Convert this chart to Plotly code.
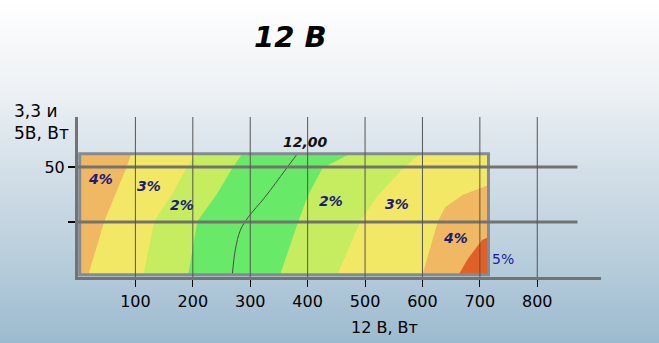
import base64
import plotly.graph_objects as go

# ---- data ----
title_text = "12 В"
x_title = "12 В, Вт"
y_title = "3,3 и<br>5В, Вт"
x_ticks = [100, 200, 300, 400, 500, 600, 700, 800]
y_ticks = [25, 50]
y_ticklabels = ["", "50"]

# map extent (12 V load, 3.3+5 V load)
map_w = [3, 715]
map_p = [1, 56]

# band boundaries: 12 V load (W) at each level of 3.3/5 V load
p_levels = [56, 49.5, 37.3, 25.5, 1]
b_4_3_left = [93, 84, 65, 46, 18]
b_3_2_left = [206, 189, 163, 133, 114]
b_2_1_left = [286, 269, 241, 208, 192]
b_1_2_right = [474, 426, 401, 384, 352]
b_2_3_right = [596, 567, 523, 492, 452]
b_3_4_right_w = [715, 670, 640, 627, 600]
b_3_4_right_p = [41.8, 37.3, 31.8, 25.5, 1]
b_4_5_right_w = [715, 704, 680, 663]
b_4_5_right_p = [18.2, 16.8, 8.6, 1]

# 12,00 V line
line12_w = [382, 361, 326, 297, 283, 274, 269]
line12_p = [56, 48.6, 36.4, 27.3, 21.4, 12.3, 1.5]

labels = [
    ("4%", 39, 44.5), ("3%", 123, 41.4), ("2%", 182, 32.7),
    ("2%", 440, 34.5), ("3%", 556, 33.2), ("4%", 657, 17.7),
]
label5 = ("5%", 741, 8.2)
label12 = ("12,00", 396, 61.4)

c_orange = "#F0B862"
c_yellow = "#F2E866"
c_lgreen = "#C6EC60"
c_green = "#68EA68"
c_red = "#E06028"

FONT = "DejaVu Sans"

fig = go.Figure()


def poly(xs, ys, color):
    fig.add_trace(go.Scatter(x=xs, y=ys, mode="lines", fill="toself",
                             fillcolor=color, line=dict(width=0, color=color),
                             hoverinfo="skip", showlegend=False))


# base yellow
poly([map_w[0], map_w[1], map_w[1], map_w[0]], [map_p[0], map_p[0], map_p[1], map_p[1]], c_yellow)
# light green band
poly(b_3_2_left + b_2_3_right[::-1], p_levels + p_levels[::-1], c_lgreen)
# green band
poly(b_2_1_left + b_1_2_right[::-1], p_levels + p_levels[::-1], c_green)
# left orange
poly([map_w[0]] + b_4_3_left + [map_w[0]], [map_p[1]] + p_levels + [map_p[0]], c_orange)
# right orange
poly(b_3_4_right_w + [map_w[1], map_w[1]], b_3_4_right_p + [map_p[0], b_3_4_right_p[0]], c_orange)
# red
poly(b_4_5_right_w + [map_w[1], map_w[1]], b_4_5_right_p + [map_p[0], b_4_5_right_p[0]], c_red)

# 12,00 line
fig.add_trace(go.Scatter(x=line12_w, y=line12_p, mode="lines",
                         line=dict(color="#4a4a4a", width=1, shape="spline"),
                         hoverinfo="skip", showlegend=False))

XMAX = 911
YMAX = 72.7

shapes = []
# map border
shapes.append(dict(type="rect", xref="x", yref="y", x0=map_w[0], x1=map_w[1], y0=map_p[0], y1=map_p[1],
                   line=dict(color="#848a92", width=3), layer="above"))
# horizontal grid lines
for yv in y_ticks:
    shapes.append(dict(type="line", xref="x", yref="y", x0=0, x1=870, y0=yv, y1=yv,
                       line=dict(color="#727272", width=3), layer="above"))
# vertical grid lines
for xv in x_ticks:
    shapes.append(dict(type="line", xref="x", yref="y", x0=xv, x1=xv, y0=0, y1=YMAX,
                       line=dict(color="#555555", width=1), layer="above"))

ann = []
for t, xw, yp in labels:
    ann.append(dict(x=xw, y=yp, xref="x", yref="y", text=f"<b><i>{t}</i></b>", showarrow=False,
                    font=dict(family=FONT, size=14, color="#1c1c78")))
ann.append(dict(x=label5[1], y=label5[2], xref="x", yref="y", text=label5[0], showarrow=False,
                font=dict(family=FONT, size=14, color="#1a1a9a")))
ann.append(dict(x=label12[1], y=label12[2], xref="x", yref="y", text=f"<b><i>{label12[0]}</i></b>",
                showarrow=False, font=dict(family=FONT, size=14, color="#111111")))

W, H = 659, 343
ML, MR, MT, MB = 78, 58, 117, 66
PW, PH = W - ML - MR, H - MT - MB


def px2paper(px, py):
    return (px - ML) / PW, 1 - (py - MT) / PH


tx, ty = px2paper(290, 37)
ann.append(dict(x=tx, y=ty, xref="paper", yref="paper", text=f"<b><i>{title_text}</i></b>",
                showarrow=False, xanchor="center", yanchor="middle",
                font=dict(family=FONT, size=29, color="#000000")))
ax_, ay_ = px2paper(384, 327)
ann.append(dict(x=ax_, y=ay_, xref="paper", yref="paper", text=x_title, showarrow=False,
                xanchor="center", yanchor="middle",
                font=dict(family=FONT, size=16, color="#000000")))
yx_, yy_ = px2paper(12, 122)
ann.append(dict(x=yx_, y=yy_, xref="paper", yref="paper", text=y_title, showarrow=False,
                xanchor="left", yanchor="middle", align="left",
                font=dict(family=FONT, size=17, color="#000000")))

svg = f"""<svg xmlns='http://www.w3.org/2000/svg' width='{W}' height='{H}' viewBox='0 0 {W} {H}' preserveAspectRatio='none'>
<defs><linearGradient id='g' x1='0' y1='0' x2='0' y2='1'>
<stop offset='0' stop-color='#ffffff'/>
<stop offset='0.25' stop-color='#eef2f5'/>
<stop offset='0.5' stop-color='#d3dfe8'/>
<stop offset='0.75' stop-color='#b9cedc'/>
<stop offset='1' stop-color='#9cbacf'/>
</linearGradient></defs>
<rect x='0' y='0' width='{W}' height='{H}' fill='url(#g)'/>
</svg>"""
src = "data:image/svg+xml;base64," + base64.b64encode(svg.encode()).decode()

fig.update_layout(
    width=W, height=H,
    margin=dict(l=ML, r=MR, t=MT, b=MB, pad=0),
    paper_bgcolor="#d8e3eb",
    plot_bgcolor="rgba(0,0,0,0)",
    showlegend=False,
    shapes=shapes,
    annotations=ann,
    images=[dict(source=src, xref="paper", yref="paper", x=-ML / PW, y=1 + MT / PH,
                 sizex=W / PW, sizey=H / PH, xanchor="left", yanchor="top",
                 sizing="stretch", layer="below")],
    xaxis=dict(range=[0, XMAX], showgrid=False, zeroline=False, showline=True,
               linecolor="#737373", linewidth=3, tickvals=x_ticks, ticks="outside",
               ticklen=7, tickwidth=1, tickcolor="#000000",
               tickfont=dict(family=FONT, size=16, color="#000000"), ticklabelstandoff=1),
    yaxis=dict(range=[0, YMAX], showgrid=False, zeroline=False, showline=True,
               linecolor="#737373", linewidth=3, tickvals=y_ticks, ticktext=y_ticklabels,
               ticks="outside", ticklen=7, tickwidth=2, tickcolor="#000000",
               tickfont=dict(family=FONT, size=16, color="#000000")),
)

fig.write_html("out.html")
